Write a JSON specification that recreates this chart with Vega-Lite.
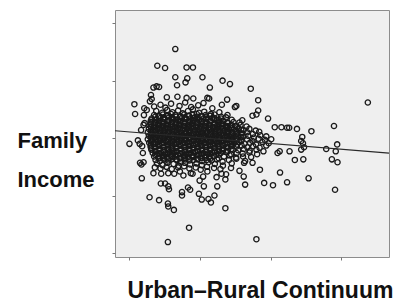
{
"$schema":"https://vega.github.io/schema/vega-lite/v6.json",
"width":274,"height":247,
"autosize":{"type":"none"},
"padding":{"left":115,"top":10,"right":4,"bottom":48},
"background":"white",
"config":{"view":{"fill":"#efefef","stroke":"#8c8c8c","strokeWidth":1}},
"datasets":{"core":[
{"x":0.73,"y":2.37},{"x":0.85,"y":2.38},{"x":0.97,"y":2.36},{"x":1.09,"y":2.39},{"x":1.21,"y":2.35},{"x":1.33,"y":2.37},{"x":1.45,"y":2.38},{"x":1.57,"y":2.36},{"x":1.69,"y":2.39},{"x":1.81,"y":2.35},{"x":1.93,"y":2.37},{"x":2.05,"y":2.38},{"x":2.17,"y":2.36},{"x":2.29,"y":2.39},{"x":2.41,"y":2.35},
{"x":0.61,"y":2.31},{"x":0.73,"y":2.32},{"x":0.85,"y":2.30},{"x":0.97,"y":2.33},{"x":1.09,"y":2.29},{"x":1.21,"y":2.31},{"x":1.33,"y":2.32},{"x":1.45,"y":2.30},{"x":1.57,"y":2.33},{"x":1.69,"y":2.29},{"x":1.81,"y":2.31},{"x":1.93,"y":2.32},{"x":2.05,"y":2.30},{"x":2.17,"y":2.33},{"x":2.29,"y":2.29},{"x":2.41,"y":2.31},{"x":2.53,"y":2.32},{"x":2.65,"y":2.30},
{"x":0.61,"y":2.25},{"x":0.73,"y":2.26},{"x":0.85,"y":2.24},{"x":0.97,"y":2.27},{"x":1.09,"y":2.23},{"x":1.21,"y":2.25},{"x":1.33,"y":2.26},{"x":1.45,"y":2.24},{"x":1.57,"y":2.27},{"x":1.69,"y":2.23},{"x":1.81,"y":2.25},{"x":1.93,"y":2.26},{"x":2.05,"y":2.24},{"x":2.17,"y":2.27},{"x":2.29,"y":2.23},{"x":2.41,"y":2.25},{"x":2.53,"y":2.26},{"x":2.65,"y":2.24},{"x":2.77,"y":2.27},{"x":2.89,"y":2.23},
{"x":0.61,"y":2.19},{"x":0.73,"y":2.20},{"x":0.85,"y":2.18},{"x":0.97,"y":2.21},{"x":1.09,"y":2.17},{"x":1.21,"y":2.19},{"x":1.33,"y":2.20},{"x":1.45,"y":2.18},{"x":1.57,"y":2.21},{"x":1.69,"y":2.17},{"x":1.81,"y":2.19},{"x":1.93,"y":2.20},{"x":2.05,"y":2.18},{"x":2.17,"y":2.21},{"x":2.29,"y":2.17},{"x":2.41,"y":2.19},{"x":2.53,"y":2.20},{"x":2.65,"y":2.18},{"x":2.77,"y":2.21},{"x":2.89,"y":2.17},{"x":3.05,"y":2.19},
{"x":0.61,"y":2.13},{"x":0.73,"y":2.14},{"x":0.85,"y":2.12},{"x":0.97,"y":2.15},{"x":1.09,"y":2.11},{"x":1.21,"y":2.13},{"x":1.33,"y":2.14},{"x":1.45,"y":2.12},{"x":1.57,"y":2.15},{"x":1.69,"y":2.11},{"x":1.81,"y":2.13},{"x":1.93,"y":2.14},{"x":2.05,"y":2.12},{"x":2.17,"y":2.15},{"x":2.29,"y":2.11},{"x":2.41,"y":2.13},{"x":2.53,"y":2.14},{"x":2.65,"y":2.12},{"x":2.77,"y":2.15},{"x":2.89,"y":2.11},{"x":3.03,"y":2.13},{"x":3.17,"y":2.14},
{"x":0.61,"y":2.07},{"x":0.73,"y":2.08},{"x":0.85,"y":2.06},{"x":0.97,"y":2.09},{"x":1.09,"y":2.05},{"x":1.21,"y":2.07},{"x":1.33,"y":2.08},{"x":1.45,"y":2.06},{"x":1.57,"y":2.09},{"x":1.69,"y":2.05},{"x":1.81,"y":2.07},{"x":1.93,"y":2.08},{"x":2.05,"y":2.06},{"x":2.17,"y":2.09},{"x":2.29,"y":2.05},{"x":2.41,"y":2.07},{"x":2.53,"y":2.08},{"x":2.65,"y":2.06},{"x":2.77,"y":2.09},{"x":2.89,"y":2.05},{"x":3.03,"y":2.07},{"x":3.17,"y":2.08},
{"x":0.61,"y":2.01},{"x":0.73,"y":2.02},{"x":0.85,"y":2.00},{"x":0.97,"y":2.03},{"x":1.09,"y":1.99},{"x":1.21,"y":2.01},{"x":1.33,"y":2.02},{"x":1.45,"y":2.00},{"x":1.57,"y":2.03},{"x":1.69,"y":1.99},{"x":1.81,"y":2.01},{"x":1.93,"y":2.02},{"x":2.05,"y":2.00},{"x":2.17,"y":2.03},{"x":2.29,"y":1.99},{"x":2.41,"y":2.01},{"x":2.53,"y":2.02},{"x":2.65,"y":2.00},{"x":2.77,"y":2.03},{"x":2.89,"y":1.99},{"x":3.03,"y":2.01},{"x":3.17,"y":2.02},
{"x":0.61,"y":1.95},{"x":0.73,"y":1.96},{"x":0.85,"y":1.94},{"x":0.97,"y":1.97},{"x":1.09,"y":1.93},{"x":1.21,"y":1.95},{"x":1.33,"y":1.96},{"x":1.45,"y":1.94},{"x":1.57,"y":1.97},{"x":1.69,"y":1.93},{"x":1.81,"y":1.95},{"x":1.93,"y":1.96},{"x":2.05,"y":1.94},{"x":2.17,"y":1.97},{"x":2.29,"y":1.93},{"x":2.41,"y":1.95},{"x":2.53,"y":1.96},{"x":2.65,"y":1.94},{"x":2.77,"y":1.97},{"x":2.89,"y":1.93},{"x":3.03,"y":1.95},{"x":3.17,"y":1.96},
{"x":0.61,"y":1.89},{"x":0.73,"y":1.90},{"x":0.85,"y":1.88},{"x":0.97,"y":1.91},{"x":1.09,"y":1.87},{"x":1.21,"y":1.89},{"x":1.33,"y":1.90},{"x":1.45,"y":1.88},{"x":1.57,"y":1.91},{"x":1.69,"y":1.87},{"x":1.81,"y":1.89},{"x":1.93,"y":1.90},{"x":2.05,"y":1.88},{"x":2.17,"y":1.91},{"x":2.29,"y":1.87},{"x":2.41,"y":1.89},{"x":2.53,"y":1.90},{"x":2.65,"y":1.88},{"x":2.77,"y":1.91},{"x":2.89,"y":1.87},{"x":3.05,"y":1.89},
{"x":0.61,"y":1.83},{"x":0.73,"y":1.84},{"x":0.85,"y":1.82},{"x":0.97,"y":1.85},{"x":1.09,"y":1.81},{"x":1.21,"y":1.83},{"x":1.33,"y":1.84},{"x":1.45,"y":1.82},{"x":1.57,"y":1.85},{"x":1.69,"y":1.81},{"x":1.81,"y":1.83},{"x":1.93,"y":1.84},{"x":2.05,"y":1.82},{"x":2.17,"y":1.85},{"x":2.29,"y":1.81},{"x":2.41,"y":1.83},{"x":2.53,"y":1.84},{"x":2.65,"y":1.82},{"x":2.77,"y":1.85},{"x":2.89,"y":1.81},
{"x":0.73,"y":1.77},{"x":0.85,"y":1.78},{"x":0.97,"y":1.76},{"x":1.09,"y":1.79},{"x":1.21,"y":1.75},{"x":1.33,"y":1.77},{"x":1.45,"y":1.78},{"x":1.57,"y":1.76},{"x":1.69,"y":1.79},{"x":1.81,"y":1.75},{"x":1.93,"y":1.77},{"x":2.05,"y":1.78},{"x":2.17,"y":1.76},{"x":2.29,"y":1.79},{"x":2.41,"y":1.75},{"x":2.53,"y":1.77},{"x":2.65,"y":1.78},{"x":2.77,"y":1.76},
{"x":0.73,"y":1.71},{"x":0.85,"y":1.72},{"x":0.97,"y":1.70},{"x":1.09,"y":1.73},{"x":1.21,"y":1.69},{"x":1.33,"y":1.71},{"x":1.45,"y":1.72},{"x":1.57,"y":1.70},{"x":1.69,"y":1.73},{"x":1.81,"y":1.69},{"x":1.93,"y":1.71},{"x":2.05,"y":1.72},{"x":2.17,"y":1.70},{"x":2.29,"y":1.73},{"x":2.41,"y":1.69},{"x":2.53,"y":1.71},
{"x":0.85,"y":1.65},{"x":0.97,"y":1.66},{"x":1.09,"y":1.64},{"x":1.21,"y":1.67},{"x":1.33,"y":1.63},{"x":1.45,"y":1.65},{"x":1.57,"y":1.66},{"x":1.69,"y":1.64},{"x":1.81,"y":1.67},{"x":1.93,"y":1.63},{"x":2.05,"y":1.65},{"x":2.17,"y":1.66},{"x":2.29,"y":1.64}
],
"main":[
{"x":1.30,"y":3.55},{"x":0.79,"y":3.26},{"x":1.01,"y":3.22},{"x":1.62,"y":3.23},{"x":1.80,"y":3.23},{"x":1.30,"y":3.06},{"x":1.64,"y":3.04},{"x":2.07,"y":3.06},{"x":1.35,"y":2.92},{"x":1.59,"y":2.97},{"x":2.64,"y":3.00},{"x":2.85,"y":2.94},{"x":2.28,"y":2.88},{"x":3.44,"y":2.86},{"x":0.68,"y":2.88},{"x":0.77,"y":2.90},{"x":0.84,"y":2.89},{"x":6.76,"y":2.62},{"x":0.14,"y":2.59},{"x":0.16,"y":2.42},{"x":3.65,"y":2.66},{"x":2.77,"y":2.67},{"x":1.06,"y":2.71},{"x":1.36,"y":2.72},{"x":1.62,"y":2.70},{"x":1.81,"y":2.69},{"x":2.21,"y":2.70},{"x":2.26,"y":2.69},{"x":0.61,"y":2.75},{"x":0.63,"y":2.68},{"x":0.58,"y":2.64},{"x":0.42,"y":2.52},{"x":0.41,"y":2.40},{"x":0.49,"y":2.49},{"x":3.03,"y":2.56},{"x":2.99,"y":2.54},{"x":3.65,"y":2.48},{"x":3.60,"y":2.41},{"x":3.49,"y":2.39},{"x":3.20,"y":2.31},{"x":3.93,"y":2.34},
{"x":5.80,"y":2.21},{"x":4.75,"y":2.16},{"x":4.47,"y":2.18},{"x":4.53,"y":2.18},{"x":5.16,"y":2.12},{"x":4.12,"y":2.19},{"x":4.31,"y":2.19},{"x":4.90,"y":2.02},{"x":4.87,"y":1.95},{"x":4.92,"y":1.91},{"x":4.95,"y":1.84},{"x":4.87,"y":1.80},{"x":5.58,"y":1.81},{"x":5.89,"y":1.89},{"x":5.85,"y":1.77},{"x":5.74,"y":1.63},{"x":5.90,"y":1.58},{"x":4.54,"y":1.77},{"x":4.69,"y":1.62},{"x":4.93,"y":1.63},{"x":4.26,"y":1.77},{"x":4.20,"y":1.74},{"x":5.08,"y":1.30},{"x":5.83,"y":1.10},{"x":4.27,"y":1.40},{"x":4.47,"y":1.23},{"x":4.07,"y":1.18},{"x":3.82,"y":1.22},
{"x":0.00,"y":1.90},{"x":0.24,"y":1.96},{"x":0.29,"y":1.90},{"x":0.36,"y":1.86},{"x":0.38,"y":1.74},{"x":0.33,"y":2.14},{"x":0.40,"y":2.23},{"x":0.43,"y":2.26},{"x":0.35,"y":1.30},{"x":0.34,"y":1.54},{"x":0.40,"y":1.58},{"x":0.30,"y":1.57},
{"x":0.57,"y":0.97},{"x":0.84,"y":0.92},{"x":1.09,"y":0.86},{"x":1.10,"y":0.81},{"x":1.26,"y":0.75},{"x":0.89,"y":1.21},{"x":1.01,"y":1.21},{"x":1.10,"y":1.16},{"x":1.12,"y":1.11},{"x":1.49,"y":1.06},{"x":1.49,"y":1.00},{"x":1.66,"y":1.14},{"x":1.72,"y":1.10},{"x":1.97,"y":1.03},{"x":2.05,"y":0.93},{"x":2.24,"y":0.94},{"x":2.31,"y":0.88},{"x":2.41,"y":1.00},{"x":2.49,"y":1.16},{"x":2.72,"y":0.78},{"x":1.69,"y":0.44},{"x":1.09,"y":0.19},{"x":3.60,"y":0.24},{"x":1.99,"y":1.26},{"x":2.11,"y":1.16},{"x":2.72,"y":1.28},{"x":2.74,"y":1.37},{"x":2.88,"y":1.48},{"x":3.12,"y":1.43},{"x":3.28,"y":1.19},{"x":3.24,"y":1.33},{"x":3.25,"y":1.57},{"x":3.49,"y":1.57},{"x":3.70,"y":1.45},{"x":0.68,"y":1.39},{"x":0.90,"y":1.38},{"x":1.10,"y":1.39},{"x":1.27,"y":1.38},{"x":1.43,"y":1.42},{"x":1.53,"y":1.35},{"x":1.74,"y":1.39},{"x":1.79,"y":1.38},{"x":2.09,"y":1.33},{"x":2.21,"y":1.42},{"x":2.47,"y":1.32},{"x":2.61,"y":1.38},
{"x":0.70,"y":2.55},{"x":0.88,"y":2.58},{"x":1.02,"y":2.53},{"x":1.18,"y":2.60},{"x":1.42,"y":2.56},{"x":1.58,"y":2.62},{"x":1.75,"y":2.54},{"x":1.95,"y":2.57},{"x":2.10,"y":2.61},{"x":2.35,"y":2.52},{"x":2.62,"y":2.58},
{"x":0.76,"y":2.47},{"x":0.93,"y":2.44},{"x":1.07,"y":2.49},{"x":1.22,"y":2.45},{"x":1.38,"y":2.48},{"x":1.51,"y":2.43},{"x":1.66,"y":2.47},{"x":1.80,"y":2.50},{"x":1.97,"y":2.44},{"x":2.12,"y":2.46},{"x":2.31,"y":2.42},{"x":2.55,"y":2.45},
{"x":0.70,"y":2.40},{"x":0.82,"y":2.38},{"x":0.95,"y":2.41},{"x":1.06,"y":2.39},{"x":1.18,"y":2.42},{"x":1.30,"y":2.40},{"x":1.43,"y":2.37},{"x":1.55,"y":2.41},{"x":1.67,"y":2.39},{"x":1.79,"y":2.40},{"x":1.91,"y":2.42},{"x":2.04,"y":2.38},{"x":2.16,"y":2.40},{"x":2.29,"y":2.39},{"x":2.41,"y":2.41},{"x":2.60,"y":2.37},{"x":2.78,"y":2.40},
{"x":0.63,"y":2.34},{"x":0.76,"y":2.32},{"x":0.88,"y":2.35},{"x":1.00,"y":2.33},{"x":1.12,"y":2.36},{"x":1.24,"y":2.34},{"x":1.37,"y":2.31},{"x":1.49,"y":2.35},{"x":1.61,"y":2.33},{"x":1.73,"y":2.34},{"x":1.86,"y":2.36},{"x":1.98,"y":2.32},{"x":2.10,"y":2.34},{"x":2.22,"y":2.33},{"x":2.35,"y":2.35},{"x":2.47,"y":2.31},{"x":2.60,"y":2.34},{"x":2.74,"y":2.36},{"x":2.90,"y":2.32},
{"x":0.60,"y":2.28},{"x":0.72,"y":2.26},{"x":0.84,"y":2.29},{"x":0.96,"y":2.27},{"x":1.08,"y":2.30},{"x":1.20,"y":2.28},{"x":1.32,"y":2.25},{"x":1.44,"y":2.29},{"x":1.57,"y":2.27},{"x":1.69,"y":2.28},{"x":1.81,"y":2.30},{"x":1.93,"y":2.26},{"x":2.05,"y":2.28},{"x":2.17,"y":2.27},{"x":2.29,"y":2.29},{"x":2.42,"y":2.25},{"x":2.54,"y":2.28},{"x":2.66,"y":2.30},{"x":2.80,"y":2.26},{"x":2.95,"y":2.28},{"x":3.12,"y":2.27},
{"x":0.57,"y":2.22},{"x":0.69,"y":2.20},{"x":0.81,"y":2.23},{"x":0.93,"y":2.21},{"x":1.05,"y":2.24},{"x":1.17,"y":2.22},{"x":1.29,"y":2.19},{"x":1.41,"y":2.23},{"x":1.53,"y":2.21},{"x":1.65,"y":2.22},{"x":1.77,"y":2.24},{"x":1.89,"y":2.20},{"x":2.01,"y":2.22},{"x":2.13,"y":2.21},{"x":2.25,"y":2.23},{"x":2.37,"y":2.19},{"x":2.49,"y":2.22},{"x":2.61,"y":2.24},{"x":2.73,"y":2.20},{"x":2.86,"y":2.22},{"x":3.00,"y":2.21},{"x":3.15,"y":2.23},{"x":3.32,"y":2.20},
{"x":0.55,"y":2.16},{"x":0.67,"y":2.14},{"x":0.79,"y":2.17},{"x":0.91,"y":2.15},{"x":1.03,"y":2.18},{"x":1.15,"y":2.16},{"x":1.27,"y":2.13},{"x":1.39,"y":2.17},{"x":1.51,"y":2.15},{"x":1.63,"y":2.16},{"x":1.75,"y":2.18},{"x":1.87,"y":2.14},{"x":1.99,"y":2.16},{"x":2.11,"y":2.15},{"x":2.23,"y":2.17},{"x":2.35,"y":2.13},{"x":2.47,"y":2.16},{"x":2.59,"y":2.18},{"x":2.71,"y":2.14},{"x":2.83,"y":2.16},{"x":2.96,"y":2.15},{"x":3.09,"y":2.17},{"x":3.24,"y":2.14},{"x":3.40,"y":2.16},{"x":3.58,"y":2.13},
{"x":0.52,"y":2.10},{"x":0.64,"y":2.08},{"x":0.76,"y":2.11},{"x":0.88,"y":2.09},{"x":1.00,"y":2.12},{"x":1.12,"y":2.10},{"x":1.24,"y":2.07},{"x":1.36,"y":2.11},{"x":1.48,"y":2.09},{"x":1.60,"y":2.10},{"x":1.72,"y":2.12},{"x":1.84,"y":2.08},{"x":1.96,"y":2.10},{"x":2.08,"y":2.09},{"x":2.20,"y":2.11},{"x":2.32,"y":2.07},{"x":2.44,"y":2.10},{"x":2.56,"y":2.12},{"x":2.68,"y":2.08},{"x":2.80,"y":2.10},{"x":2.92,"y":2.09},{"x":3.05,"y":2.11},{"x":3.19,"y":2.08},{"x":3.34,"y":2.10},{"x":3.50,"y":2.07},{"x":3.68,"y":2.11},
{"x":0.55,"y":2.04},{"x":0.67,"y":2.02},{"x":0.79,"y":2.05},{"x":0.91,"y":2.03},{"x":1.03,"y":2.06},{"x":1.15,"y":2.04},{"x":1.27,"y":2.01},{"x":1.39,"y":2.05},{"x":1.51,"y":2.03},{"x":1.63,"y":2.04},{"x":1.75,"y":2.06},{"x":1.87,"y":2.02},{"x":1.99,"y":2.04},{"x":2.11,"y":2.03},{"x":2.23,"y":2.05},{"x":2.35,"y":2.01},{"x":2.47,"y":2.04},{"x":2.59,"y":2.06},{"x":2.71,"y":2.02},{"x":2.83,"y":2.04},{"x":2.95,"y":2.03},{"x":3.08,"y":2.05},{"x":3.22,"y":2.02},{"x":3.37,"y":2.04},{"x":3.53,"y":2.01},{"x":3.71,"y":2.05},{"x":3.88,"y":2.03},
{"x":0.52,"y":1.98},{"x":0.64,"y":1.96},{"x":0.76,"y":1.99},{"x":0.88,"y":1.97},{"x":1.00,"y":2.00},{"x":1.12,"y":1.98},{"x":1.24,"y":1.95},{"x":1.36,"y":1.99},{"x":1.48,"y":1.97},{"x":1.60,"y":1.98},{"x":1.72,"y":2.00},{"x":1.84,"y":1.96},{"x":1.96,"y":1.98},{"x":2.08,"y":1.97},{"x":2.20,"y":1.99},{"x":2.32,"y":1.95},{"x":2.44,"y":1.98},{"x":2.56,"y":2.00},{"x":2.68,"y":1.96},{"x":2.80,"y":1.98},{"x":2.92,"y":1.97},{"x":3.04,"y":1.99},{"x":3.18,"y":1.96},{"x":3.33,"y":1.98},{"x":3.49,"y":1.95},{"x":3.66,"y":1.99},{"x":3.84,"y":1.97},{"x":4.02,"y":1.98},
{"x":0.56,"y":1.92},{"x":0.68,"y":1.90},{"x":0.80,"y":1.93},{"x":0.92,"y":1.91},{"x":1.04,"y":1.94},{"x":1.16,"y":1.92},{"x":1.28,"y":1.89},{"x":1.40,"y":1.93},{"x":1.52,"y":1.91},{"x":1.64,"y":1.92},{"x":1.76,"y":1.94},{"x":1.88,"y":1.90},{"x":2.00,"y":1.92},{"x":2.12,"y":1.91},{"x":2.24,"y":1.93},{"x":2.36,"y":1.89},{"x":2.48,"y":1.92},{"x":2.60,"y":1.94},{"x":2.72,"y":1.90},{"x":2.84,"y":1.92},{"x":2.97,"y":1.91},{"x":3.11,"y":1.93},{"x":3.26,"y":1.90},{"x":3.42,"y":1.92},{"x":3.59,"y":1.89},{"x":3.77,"y":1.93},{"x":3.95,"y":1.91},
{"x":0.60,"y":1.86},{"x":0.72,"y":1.84},{"x":0.84,"y":1.87},{"x":0.96,"y":1.85},{"x":1.08,"y":1.88},{"x":1.20,"y":1.86},{"x":1.32,"y":1.83},{"x":1.44,"y":1.87},{"x":1.56,"y":1.85},{"x":1.68,"y":1.86},{"x":1.80,"y":1.88},{"x":1.92,"y":1.84},{"x":2.04,"y":1.86},{"x":2.16,"y":1.85},{"x":2.28,"y":1.87},{"x":2.40,"y":1.83},{"x":2.52,"y":1.86},{"x":2.64,"y":1.88},{"x":2.76,"y":1.84},{"x":2.89,"y":1.86},{"x":3.03,"y":1.85},{"x":3.18,"y":1.87},{"x":3.34,"y":1.84},{"x":3.51,"y":1.86},{"x":3.69,"y":1.83},{"x":3.88,"y":1.87},
{"x":0.62,"y":1.80},{"x":0.74,"y":1.78},{"x":0.86,"y":1.81},{"x":0.98,"y":1.79},{"x":1.10,"y":1.82},{"x":1.22,"y":1.80},{"x":1.34,"y":1.77},{"x":1.46,"y":1.81},{"x":1.58,"y":1.79},{"x":1.70,"y":1.80},{"x":1.82,"y":1.82},{"x":1.94,"y":1.78},{"x":2.06,"y":1.80},{"x":2.18,"y":1.79},{"x":2.30,"y":1.81},{"x":2.42,"y":1.77},{"x":2.54,"y":1.80},{"x":2.66,"y":1.82},{"x":2.79,"y":1.78},{"x":2.93,"y":1.80},{"x":3.08,"y":1.79},{"x":3.24,"y":1.81},{"x":3.41,"y":1.78},{"x":3.60,"y":1.80},{"x":3.80,"y":1.77},
{"x":0.66,"y":1.74},{"x":0.78,"y":1.72},{"x":0.90,"y":1.75},{"x":1.02,"y":1.73},{"x":1.14,"y":1.76},{"x":1.26,"y":1.74},{"x":1.38,"y":1.71},{"x":1.50,"y":1.75},{"x":1.62,"y":1.73},{"x":1.74,"y":1.74},{"x":1.86,"y":1.76},{"x":1.98,"y":1.72},{"x":2.10,"y":1.74},{"x":2.22,"y":1.73},{"x":2.34,"y":1.75},{"x":2.46,"y":1.71},{"x":2.59,"y":1.74},{"x":2.73,"y":1.76},{"x":2.88,"y":1.72},{"x":3.04,"y":1.74},{"x":3.21,"y":1.73},{"x":3.40,"y":1.75},{"x":3.62,"y":1.72},
{"x":0.70,"y":1.68},{"x":0.82,"y":1.66},{"x":0.94,"y":1.69},{"x":1.06,"y":1.67},{"x":1.18,"y":1.70},{"x":1.30,"y":1.68},{"x":1.42,"y":1.65},{"x":1.54,"y":1.69},{"x":1.66,"y":1.67},{"x":1.78,"y":1.68},{"x":1.90,"y":1.70},{"x":2.02,"y":1.66},{"x":2.14,"y":1.68},{"x":2.26,"y":1.67},{"x":2.39,"y":1.69},{"x":2.53,"y":1.65},{"x":2.68,"y":1.68},{"x":2.84,"y":1.70},{"x":3.02,"y":1.66},{"x":3.22,"y":1.68},{"x":3.45,"y":1.67},
{"x":0.74,"y":1.62},{"x":0.86,"y":1.60},{"x":0.98,"y":1.63},{"x":1.10,"y":1.61},{"x":1.22,"y":1.64},{"x":1.34,"y":1.62},{"x":1.46,"y":1.59},{"x":1.58,"y":1.63},{"x":1.70,"y":1.61},{"x":1.82,"y":1.62},{"x":1.94,"y":1.64},{"x":2.06,"y":1.60},{"x":2.19,"y":1.62},{"x":2.33,"y":1.61},{"x":2.48,"y":1.63},{"x":2.64,"y":1.59},{"x":2.82,"y":1.62},{"x":3.03,"y":1.64},{"x":3.28,"y":1.60},
{"x":0.78,"y":1.56},{"x":0.94,"y":1.53},{"x":1.08,"y":1.57},{"x":1.25,"y":1.55},{"x":1.40,"y":1.52},{"x":1.57,"y":1.57},{"x":1.72,"y":1.54},{"x":1.90,"y":1.56},{"x":2.05,"y":1.53},{"x":2.24,"y":1.58},{"x":2.42,"y":1.55},{"x":2.65,"y":1.52},{"x":2.90,"y":1.56},
{"x":0.72,"y":1.49},{"x":0.88,"y":1.47},{"x":1.05,"y":1.50},{"x":1.20,"y":1.46},{"x":1.38,"y":1.49},{"x":1.55,"y":1.51},{"x":1.70,"y":1.47},{"x":1.88,"y":1.49},{"x":2.02,"y":1.45},{"x":2.20,"y":1.50},{"x":2.40,"y":1.48},{"x":2.58,"y":1.46}
]},
"layer":[
{"data":{"name":"main"},
"mark":{"type":"point","shape":"circle","filled":false,"size":28,"stroke":"#1a1a1a","strokeWidth":1.3,"opacity":1},
"encoding":{
"x":{"field":"x","type":"quantitative","scale":{"domain":[-0.41,7.36],"nice":false,"zero":false},
"axis":{"values":[0,1,2,3,4,5,6,7],"labels":false,"ticks":true,"tickSize":3,"tickColor":"#777777","domain":false,"grid":false,
"title":"Urban–Rural Continuum","titleFont":"Liberation Sans","titleFontSize":23,"titleFontWeight":"bold","titleColor":"#111111","titleX":145,"titleY":40,"titleAlign":"center","titleBaseline":"alphabetic"}},
"y":{"field":"y","type":"quantitative","scale":{"domain":[-0.07,4.23],"nice":false,"zero":false},
"axis":{"values":[0,1,2,3,4],"labels":false,"ticks":true,"tickSize":3,"tickColor":"#777777","domain":false,"grid":false,
"title":["Family","Income"],"titleFont":"Liberation Sans","titleFontSize":22,"titleFontWeight":"bold","titleColor":"#111111","titleAngle":0,"titleAlign":"left","titleBaseline":"alphabetic","titleX":-98,"titleY":137,"titleLineHeight":39}}
}},
{"data":{"name":"core"},
"mark":{"type":"point","shape":"circle","filled":false,"size":28,"stroke":"#1a1a1a","strokeWidth":1.3,"opacity":1},
"encoding":{"x":{"field":"x","type":"quantitative"},"y":{"field":"y","type":"quantitative"}}},
{"data":{"values":[{"x":-0.41,"y":2.128},{"x":7.36,"y":1.739}]},
"mark":{"type":"line","color":"#2a2a2a","strokeWidth":1.1},
"encoding":{"x":{"field":"x","type":"quantitative"},"y":{"field":"y","type":"quantitative"}}}
]
}
